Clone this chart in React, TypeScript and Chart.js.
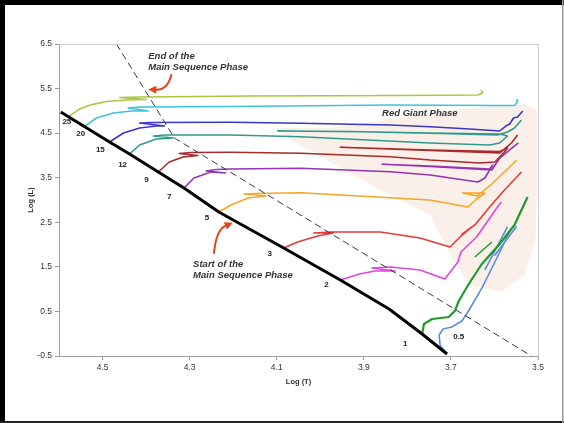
import React, { useEffect, useRef } from 'react';
import { Chart, registerables } from 'chart.js';

Chart.register(...registerables);

type P = [number, number];

// ---- axis ticks ----
const xTickValues = [4.5, 4.3, 4.1, 3.9, 3.7, 3.5];
const yTickValues = [-0.5, 0.5, 1.5, 2.5, 3.5, 4.5, 5.5, 6.5];

// ---- data: [log T, log L] ----
const mainSequence: P[] = [
  [4.596, 4.974], [4.484, 4.301], [4.438, 4.032], [4.372, 3.628], [4.313, 3.269],
  [4.233, 2.731], [4.084, 1.923], [3.954, 1.205], [3.842, 0.554], [3.766, -0.007], [3.709, -0.455],
];

const endOfMainSequence: P[] = [[4.468, 6.5], [4.335, 4.391], [3.515, -0.5]];

const track25: P[] = [
  [4.578, 4.87], [4.553, 5.04], [4.525, 5.14], [4.491, 5.21], [4.445, 5.244], [4.399, 5.255],
  [4.461, 5.3], [4.411, 5.311], [4.159, 5.333], [3.817, 5.344], [3.638, 5.356], [3.627, 5.401], [3.631, 5.468],
];
const track20: P[] = [
  [4.541, 4.65], [4.514, 4.84], [4.475, 4.952], [4.434, 4.997], [4.395, 4.997], [4.441, 5.064],
  [4.411, 5.086], [4.205, 5.098], [3.839, 5.131], [3.588, 5.12], [3.554, 5.12], [3.547, 5.199], [3.549, 5.266],
];
const track15: P[] = [
  [4.484, 4.301], [4.452, 4.503], [4.415, 4.615], [4.377, 4.66], [4.358, 4.66], [4.415, 4.728],
  [4.388, 4.739], [4.205, 4.743], [4.045, 4.721], [3.839, 4.683], [3.748, 4.644], [3.657, 4.593],
  [3.588, 4.548], [3.574, 4.66], [3.565, 4.705], [3.556, 4.84], [3.547, 4.862], [3.535, 4.997],
];
const track12: P[] = [
  [4.438, 4.032], [4.415, 4.234], [4.377, 4.368], [4.338, 4.391], [4.383, 4.436], [4.354, 4.458],
  [4.205, 4.458], [4.045, 4.42], [3.748, 4.279], [3.611, 4.234], [3.588, 4.279], [3.57, 4.436],
  [3.588, 4.481], [3.748, 4.503], [3.931, 4.537], [4.098, 4.548], [3.908, 4.53], [3.725, 4.492],
  [3.593, 4.458], [3.57, 4.526], [3.554, 4.615], [3.538, 4.795],
];
const track9: P[] = [
  [4.372, 3.628], [4.347, 3.852], [4.315, 3.965], [4.281, 3.998], [4.324, 4.043], [4.297, 4.066],
  [4.205, 4.07], [4.045, 4.048], [3.839, 3.971], [3.748, 3.897], [3.634, 3.83], [3.599, 3.852],
  [3.577, 4.077], [3.57, 4.167], [3.588, 4.088], [3.748, 4.122], [3.954, 4.182], [3.748, 4.11],
  [3.588, 4.054], [3.561, 4.279], [3.547, 4.458],
];
const track7: P[] = [
  [4.313, 3.269], [4.29, 3.493], [4.251, 3.628], [4.217, 3.606], [4.262, 3.65], [4.239, 3.684],
  [4.205, 3.695], [4.045, 3.711], [3.839, 3.635], [3.748, 3.561], [3.638, 3.404], [3.622, 3.493],
  [3.604, 3.785], [3.611, 3.695], [3.748, 3.763], [3.858, 3.801], [3.748, 3.751], [3.606, 3.673],
  [3.588, 3.942], [3.565, 4.122], [3.545, 4.279],
];
const track5: P[] = [
  [4.233, 2.731], [4.205, 2.888], [4.166, 3.045], [4.125, 3.09], [4.175, 3.134], [4.148, 3.146],
  [4.045, 3.164], [3.748, 3.0], [3.661, 2.843], [3.641, 3.022], [3.622, 3.157], [3.673, 3.157],
  [3.639, 3.09], [3.606, 3.359], [3.577, 3.628], [3.549, 3.897],
];
const track3: P[] = [
  [4.084, 1.923], [4.052, 2.057], [4.006, 2.192], [3.97, 2.259], [4.015, 2.259], [3.977, 2.281],
  [3.862, 2.281], [3.771, 2.147], [3.702, 1.945], [3.679, 2.17], [3.652, 2.394], [3.675, 2.23],
  [3.645, 2.44], [3.611, 2.843], [3.577, 3.224], [3.538, 3.628],
];
const track2: P[] = [
  [3.954, 1.205], [3.91, 1.339], [3.874, 1.407], [3.828, 1.407], [3.881, 1.474], [3.839, 1.497],
  [3.771, 1.429], [3.714, 1.227], [3.684, 1.609], [3.677, 1.833], [3.641, 2.17], [3.593, 2.843], [3.584, 2.955],
];
const track1: P[] = [
  [3.766, -0.007], [3.762, 0.218], [3.743, 0.33], [3.705, 0.375], [3.691, 0.509], [3.682, 0.734],
  [3.659, 1.115], [3.629, 1.564], [3.59, 1.99], [3.554, 2.439], [3.524, 3.067],
];
const track1Branch: P[] = [[3.645, 1.721], [3.606, 2.057]];
const track05: P[] = [
  [3.709, -0.455], [3.725, -0.253], [3.727, -0.029], [3.718, 0.106], [3.698, 0.15], [3.675, 0.285],
  [3.661, 0.487], [3.629, 1.025], [3.599, 1.609], [3.561, 2.372],
];
const track05BranchA: P[] = [[3.622, 1.43], [3.57, 2.4]];
const track05BranchB: P[] = [[3.6, 1.75], [3.549, 2.41]];

const redGiantRegion: P[] = [
  [4.102, 4.615], [3.977, 4.615], [3.817, 4.84], [3.657, 5.064], [3.531, 5.154], [3.502, 5.02],
  [3.501, 3.448], [3.506, 2.102], [3.531, 1.317], [3.588, 0.936], [3.657, 1.093], [3.691, 1.609],
  [3.725, 2.215], [3.748, 2.663], [3.862, 3.224], [3.977, 3.852], [4.068, 4.346], [4.102, 4.615],
];

// ---- labels ----
const massLabels = ['25', '20', '15', '12', '9', '7', '5', '3', '2', '1', '0.5'];
const massLabelT = [4.582, 4.55, 4.505, 4.454, 4.399, 4.347, 4.26, 4.116, 3.986, 3.805, 3.682];
const massLabelL = [4.75, 4.481, 4.122, 3.785, 3.449, 3.067, 2.596, 1.788, 1.093, -0.231, -0.058];

const noteTexts = ['End of the', 'Main Sequence Phase', 'Start of the', 'Main Sequence Phase', 'Red Giant Phase'];
const noteT = [4.395, 4.395, 4.292, 4.292, 3.858];
const noteL = [6.231, 5.984, 1.564, 1.306, 4.941];

// arrows: tail, control, head
const arrowEnd: P[] = [[4.342, 5.804], [4.351, 5.468], [4.395, 5.479]];
const arrowStart: P[] = [[4.244, 1.811], [4.239, 2.327], [4.201, 2.49]];

const trackSeries = [
  { name: '25', color: '#a9c742', pts: track25 },
  { name: '20', color: '#3fc2db', pts: track20 },
  { name: '15', color: '#3a36c8', pts: track15 },
  { name: '12', color: '#2e9c8d', pts: track12 },
  { name: '9', color: '#a72b2d', pts: track9 },
  { name: '7', color: '#9434b1', pts: track7 },
  { name: '5', color: '#f4a626', pts: track5 },
  { name: '3', color: '#e23b3b', pts: track3 },
  { name: '2', color: '#df47dd', pts: track2 },
  { name: '1', color: '#1f9a2e', pts: track1, width: 2.2 },
  { name: '1b', color: '#1f9a2e', pts: track1Branch, width: 1.5 },
  { name: '0.5', color: '#5b8ed8', pts: track05 },
  { name: '0.5a', color: '#5b8ed8', pts: track05BranchA },
  { name: '0.5b', color: '#5b8ed8', pts: track05BranchB },
];

const toXY = (arr: P[]) => arr.map(([t, l]) => ({ x: t, y: l }));

const FONT = '"Liberation Sans", Arial, sans-serif';

function drawArrow(ctx: CanvasRenderingContext2D, chart: any, a: P[]) {
  const xs = chart.scales.x;
  const ys = chart.scales.y;
  const [t, c, h] = a.map(([tt, ll]) => [xs.getPixelForValue(tt), ys.getPixelForValue(ll)]);
  const ang = Math.atan2(h[1] - c[1], h[0] - c[0]);
  const len = 8;
  const wid = 4;
  const bx = h[0] - len * Math.cos(ang);
  const by = h[1] - len * Math.sin(ang);
  ctx.save();
  ctx.strokeStyle = '#e2431e';
  ctx.fillStyle = '#e2431e';
  ctx.lineWidth = 2;
  ctx.lineCap = 'round';
  ctx.beginPath();
  ctx.moveTo(t[0], t[1]);
  ctx.quadraticCurveTo(c[0], c[1], bx, by);
  ctx.stroke();
  ctx.beginPath();
  ctx.moveTo(h[0], h[1]);
  ctx.lineTo(bx - wid * Math.sin(ang), by + wid * Math.cos(ang));
  ctx.lineTo(bx + wid * Math.sin(ang), by - wid * Math.cos(ang));
  ctx.closePath();
  ctx.fill();
  ctx.restore();
}

const decorPlugin = {
  id: 'hrDecor',
  beforeDraw(chart: any) {
    const { ctx, width, height } = chart;
    ctx.save();
    ctx.fillStyle = '#ffffff';
    ctx.fillRect(0, 0, width, height);
    ctx.fillStyle = '#000000';
    ctx.fillRect(0, 0, width, 5);
    ctx.fillRect(0, 0, 5, height);
    ctx.fillStyle = '#222222';
    ctx.fillRect(0, height - 2, width, 2);
    ctx.fillStyle = '#9a9a9a';
    ctx.fillRect(width - 2, 0, 1.5, height);
    ctx.restore();
  },
  afterDatasetsDraw(chart: any) {
    const { ctx, chartArea } = chart;
    const xs = chart.scales.x;
    const ys = chart.scales.y;
    ctx.save();
    ctx.strokeStyle = '#cfcfcf';
    ctx.lineWidth = 1;
    ctx.beginPath();
    ctx.moveTo(chartArea.left, chartArea.top + 0.5);
    ctx.lineTo(chartArea.right + 0.5, chartArea.top + 0.5);
    ctx.lineTo(chartArea.right + 0.5, chartArea.bottom);
    ctx.stroke();

    ctx.fillStyle = '#222';
    ctx.font = `bold 8px ${FONT}`;
    ctx.textAlign = 'center';
    ctx.textBaseline = 'middle';
    massLabels.forEach((m, i) => {
      ctx.fillText(m, xs.getPixelForValue(massLabelT[i]), ys.getPixelForValue(massLabelL[i]));
    });

    ctx.fillStyle = '#333';
    ctx.font = `italic bold 9.5px ${FONT}`;
    ctx.textAlign = 'left';
    noteTexts.forEach((s, i) => {
      ctx.fillText(s, xs.getPixelForValue(noteT[i]), ys.getPixelForValue(noteL[i]));
    });
    ctx.restore();

    drawArrow(ctx, chart, arrowEnd);
    drawArrow(ctx, chart, arrowStart);
  },
};

export default function App() {
  const ref = useRef<HTMLCanvasElement | null>(null);

  useEffect(() => {
    document.body.style.margin = '0';
    const canvas = ref.current;
    if (!canvas) return;

    const datasets: any[] = [
      {
        label: 'Red giant region',
        data: toXY(redGiantRegion),
        showLine: true,
        fill: 'shape',
        backgroundColor: '#fbf0e9',
        borderWidth: 0,
        borderColor: 'rgba(0,0,0,0)',
        pointRadius: 0,
        order: 20,
      },
      ...trackSeries.map((s) => ({
        label: s.name,
        data: toXY(s.pts),
        showLine: true,
        fill: false,
        borderColor: s.color,
        backgroundColor: s.color,
        borderWidth: (s as any).width ?? 1.6,
        pointRadius: 0,
        tension: 0,
        borderJoinStyle: 'round',
        order: 10,
      })),
      {
        label: 'Main sequence',
        data: toXY(mainSequence),
        showLine: true,
        fill: false,
        borderColor: '#000000',
        borderWidth: 3,
        pointRadius: 0,
        borderJoinStyle: 'round',
        order: 2,
      },
      {
        label: 'End of main sequence',
        data: toXY(endOfMainSequence),
        showLine: true,
        fill: false,
        borderColor: '#3a3a3a',
        borderWidth: 1,
        borderDash: [7, 4],
        pointRadius: 0,
        order: 1,
      },
    ];

    const tickFont = { family: FONT, size: 8.5 };
    const titleFont = { family: FONT, size: 7.5, weight: 'bold' as const };

    const chart = new Chart(canvas, {
      type: 'scatter',
      data: { datasets },
      options: {
        responsive: false,
        animation: false,
        layout: { padding: { top: 44, right: 26, left: 0, bottom: 0 } },
        plugins: { legend: { display: false }, tooltip: { enabled: false } },
        scales: {
          x: {
            type: 'linear',
            reverse: true,
            min: 3.5,
            max: 4.6,
            afterBuildTicks: (s: any) => {
              s.ticks = xTickValues.map((v) => ({ value: v }));
            },
            afterFit: (s: any) => {
              s.height = 67;
            },
            ticks: {
              font: tickFont,
              color: '#333',
              padding: 3,
              autoSkip: false,
              maxRotation: 0,
              callback: (v: any) => Number(v).toFixed(1),
            },
            grid: { drawOnChartArea: false, drawTicks: true, tickLength: 4, color: '#999' },
            border: { display: true, color: '#a0a0a0', width: 1 },
            title: { display: true, text: 'Log (T)', font: titleFont, color: '#333', padding: { top: 0, bottom: 36.5 } },
          },
          y: {
            type: 'linear',
            min: -0.5,
            max: 6.5,
            afterBuildTicks: (s: any) => {
              s.ticks = yTickValues.map((v) => ({ value: v }));
            },
            afterFit: (s: any) => {
              s.width = 59;
            },
            ticks: {
              font: tickFont,
              color: '#333',
              padding: 3,
              autoSkip: false,
              callback: (v: any) => Number(v).toFixed(1),
            },
            grid: { drawOnChartArea: false, drawTicks: true, tickLength: 4, color: '#999' },
            border: { display: true, color: '#a0a0a0', width: 1 },
            title: { display: true, text: 'Log (L)', font: titleFont, color: '#333', padding: { top: 26.5, bottom: 0 } },
          },
        },
      },
      plugins: [decorPlugin],
    });

    return () => chart.destroy();
  }, []);

  return (
    <div style={{ width: 564, height: 423 }}>
      <canvas ref={ref} width={564} height={423} style={{ display: 'block' }} />
    </div>
  );
}
